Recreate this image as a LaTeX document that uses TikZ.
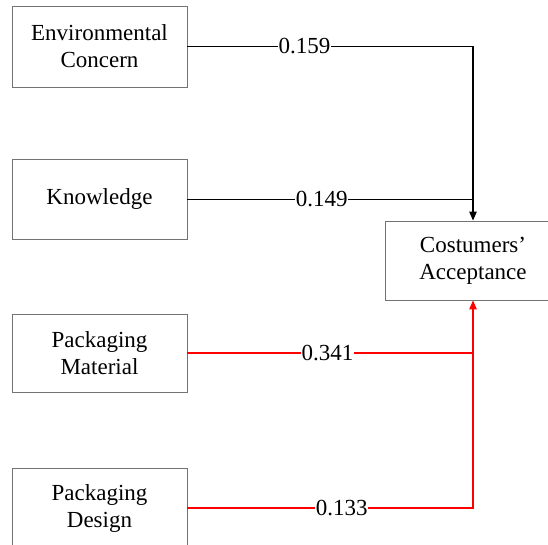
\documentclass[tikz,border=0pt]{standalone}
\usepackage{fontspec}
\setmainfont{Liberation Serif}
\usetikzlibrary{arrows.meta}
\begin{document}
\begin{tikzpicture}[x=1pt,y=1pt,
  box/.style={draw=black!55, line width=0.9pt, minimum width=175pt, minimum height=80pt, align=center, inner sep=0pt, font=\fontsize{23}{27}\selectfont},
  lbl/.style={fill=white, text=black, inner sep=0.6pt, font=\fontsize{23}{27}\selectfont},
  blk/.style={line width=1.2pt, black},
  redl/.style={line width=1.2pt, red},
  tip/.style={-{Triangle[length=9pt,width=7.5pt]}}]
\useasboundingbox (0,0) rectangle (548,544);
\fill[white] (0,0) rectangle (548,544);
\node[box, minimum height=81pt] (env) at (99.5,497.5) {Environmental\\Concern};
\node[box] (kn) at (99.5,344.5) {Knowledge};
\node[box, minimum height=78pt] (pm) at (99.5,191) {Packaging\\Material};
\node[box] (pd) at (99.5,36) {Packaging\\Design};
\node[box, minimum width=176pt, minimum height=79pt] (tgt) at (473,283.5) {Costumers’\\Acceptance};
\coordinate (j1) at (env.east -| tgt.north);
\coordinate (j2) at (kn.east -| tgt.north);
\coordinate (j3) at (pm.east -| tgt.south);
\coordinate (j4) at (pd.east -| tgt.south);
\draw[blk] (kn.east) -- node[lbl, pos=0.47] (l2) {0.149} (j2);
\draw[blk, tip] (env.east) -- node[lbl, pos=0.41] (l1) {0.159} (j1) -- (tgt.north);
\draw[redl] (pm.east) -- node[lbl, pos=0.49] (l3) {0.341} (j3);
\draw[redl, tip] (pd.east) -- node[lbl, pos=0.54] (l4) {0.133} (j4) -- (tgt.south);
\end{tikzpicture}
\end{document}
